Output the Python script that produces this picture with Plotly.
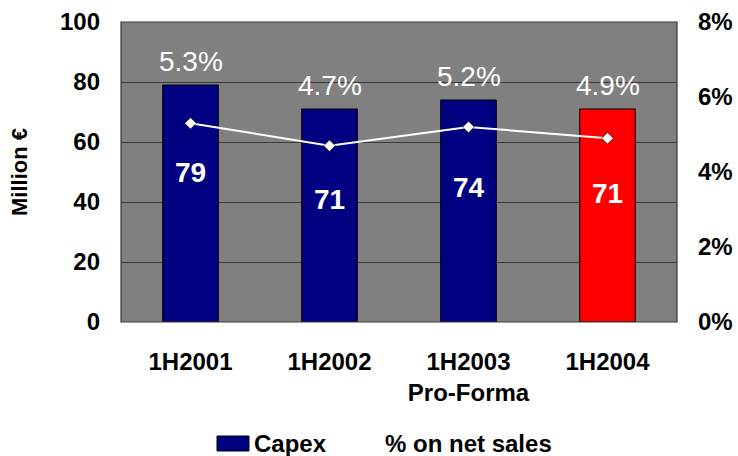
import plotly.graph_objects as go

# Data
periods = ["1H2001", "1H2002", "1H2003", "1H2004"]
period_labels = ["1H2001", "1H2002", "1H2003<br>Pro-Forma", "1H2004"]
capex = [79, 71, 74, 71]                      # Million €
pct_net_sales = [0.053, 0.047, 0.052, 0.049]  # share of net sales

# Styling
bar_colors = ["#000080", "#000080", "#000080", "#FF0000"]
inside_label_y = [50, 41, 45, 43]   # vertical placement of the value labels inside the bars
FONT = "Liberation Sans, Arial, sans-serif"
GRID = "#3a3a3a"

fig = go.Figure()

fig.add_trace(go.Bar(
    x=periods, y=capex, name="Capex",
    marker=dict(color=bar_colors, line=dict(color="#000000", width=1)),
    width=0.4, yaxis="y",
))

fig.add_trace(go.Scatter(
    x=periods, y=pct_net_sales, name="% on net sales",
    mode="lines+markers", yaxis="y2",
    line=dict(color="#FFFFFF", width=2),
    marker=dict(symbol="diamond", size=9, color="#FFFFFF",
                line=dict(color="#000000", width=0.6)),
))

annotations = []
for p, v, pct, ly in zip(periods, capex, pct_net_sales, inside_label_y):
    # percentage label above each bar
    annotations.append(dict(
        x=p, y=v, xref="x", yref="y", text=f"{pct*100:.1f}%",
        showarrow=False, yshift=24, yanchor="middle",
        font=dict(family=FONT, size=28, color="#FFFFFF"),
    ))
    # capex value inside each bar
    annotations.append(dict(
        x=p, y=ly, xref="x", yref="y", text=f"<b>{v}</b>",
        showarrow=False, yanchor="middle",
        font=dict(family=FONT, size=28, color="#FFFFFF"),
    ))

# Legend drawn as swatch + labels
annotations.append(dict(
    x=252, y=443, xref="paper", yref="paper", text="<b>Capex</b>",
    showarrow=False, xanchor="left", yanchor="middle",
    font=dict(family=FONT, size=24, color="#000000"),
))
annotations.append(dict(
    x=383, y=443, xref="paper", yref="paper", text="<b>% on net sales</b>",
    showarrow=False, xanchor="left", yanchor="middle",
    font=dict(family=FONT, size=24, color="#000000"),
))

# convert pixel-based legend positions to paper coords
W, H = 738, 456
L, R, T, B = 121, 61, 22, 134
pw, ph = W - L - R, H - T - B
for a in annotations:
    if a["xref"] == "paper":
        a["x"] = (a["x"] - L) / pw
        a["y"] = (H - B - a["y"]) / ph

shapes = [
    dict(type="rect", xref="paper", yref="paper", x0=0, x1=1, y0=0, y1=1,
         line=dict(color=GRID, width=1.2), layer="above"),
    dict(type="rect", xref="paper", yref="paper",
         x0=(217 - L) / pw, x1=(249 - L) / pw,
         y0=(H - B - 451) / ph, y1=(H - B - 436) / ph,
         fillcolor="#000080", line=dict(color="#000000", width=1)),
]

fig.update_layout(
    width=W, height=H,
    margin=dict(l=L, r=R, t=T, b=B, pad=0, autoexpand=False),
    paper_bgcolor="#FFFFFF", plot_bgcolor="#808080",
    showlegend=False,
    bargap=0.6,
    font=dict(family=FONT, color="#000000"),
    xaxis=dict(
        tickmode="array", tickvals=periods, ticktext=[f"<b>{t}</b>".replace("<br>", "</b><br><b>") for t in period_labels],
        tickfont=dict(family=FONT, size=24, color="#000000"),
        showgrid=False, zeroline=False, showline=False, ticks="",
        ticklabelstandoff=23, automargin=False,
    ),
    yaxis=dict(
        range=[0, 100], dtick=20, tickformat="d",
        tickfont=dict(family=FONT, size=24, color="#000000"),
        showgrid=True, gridcolor=GRID, gridwidth=1.2, zeroline=False,
        ticks="", ticklabelstandoff=20, automargin=False,
        tickprefix="<b>", ticksuffix="</b>",
        title=dict(text="<b>Million €</b>", font=dict(family=FONT, size=22, color="#000000"), standoff=26),
    ),
    yaxis2=dict(
        range=[0, 0.08], dtick=0.02, tickformat=".0%",
        overlaying="y", side="right",
        tickfont=dict(family=FONT, size=24, color="#000000"),
        showgrid=False, zeroline=False, ticks="", ticklabelstandoff=20,
        automargin=False,
        tickprefix="<b>", ticksuffix="</b>",
    ),
    annotations=annotations,
    shapes=shapes,
)

fig.write_html("out.html")
